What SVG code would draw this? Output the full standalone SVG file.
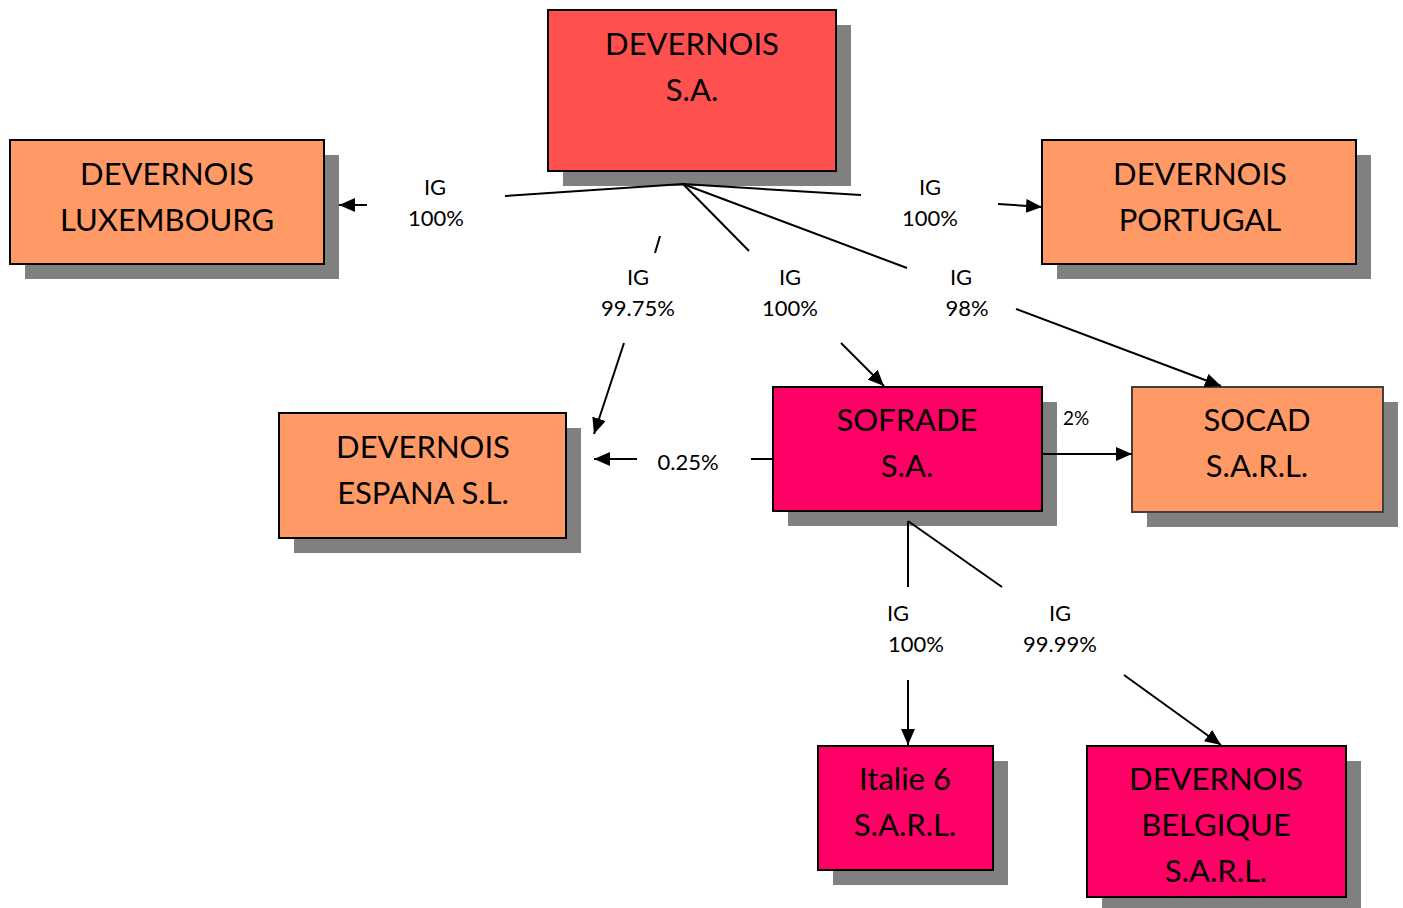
<svg xmlns="http://www.w3.org/2000/svg" width="1403" height="908" viewBox="0 0 1403 908">
<style>
.sh{fill:#808080}
.box{stroke:#000;stroke-width:2}
.red{fill:#FF5050}
.org{fill:#FF9966}
.pink{fill:#FF0066}
.nt{font-family:Lato,"Open Sans",sans-serif;font-size:31px;fill:#000;text-anchor:middle}
.lb{font-family:Lato,"Open Sans",sans-serif;font-size:22px;fill:#000;text-anchor:middle}
.ln{stroke:#000;stroke-width:2;fill:none}
</style>
<defs>
<marker id="ah" markerUnits="userSpaceOnUse" markerWidth="16" markerHeight="14" refX="16" refY="7" orient="auto">
<path d="M0,0 L16,7 L0,14 Z" fill="#000"/>
</marker>
</defs>
<rect width="1403" height="908" fill="#fff"/>
<g id="devernois-sa">
<rect class="sh" x="563" y="25" width="288" height="161"/>
<rect class="box red" x="548" y="10" width="288" height="161"/>
<text class="nt" x="692" y="55">DEVERNOIS</text>
<text class="nt" x="692" y="101">S.A.</text>
</g>
<g id="luxembourg">
<rect class="sh" x="25" y="155" width="314" height="124"/>
<rect class="box org" x="10" y="140" width="314" height="124"/>
<text class="nt" x="167" y="185">DEVERNOIS</text>
<text class="nt" x="167" y="231">LUXEMBOURG</text>
</g>
<g id="portugal">
<rect class="sh" x="1057" y="155" width="314" height="124"/>
<rect class="box org" x="1042" y="140" width="314" height="124"/>
<text class="nt" x="1200" y="185">DEVERNOIS</text>
<text class="nt" x="1200" y="231">PORTUGAL</text>
</g>
<g id="espana">
<rect class="sh" x="294" y="428" width="287" height="125"/>
<rect class="box org" x="279" y="413" width="287" height="125"/>
<text class="nt" x="423" y="458">DEVERNOIS</text>
<text class="nt" x="423" y="504">ESPANA S.L.</text>
</g>
<g id="sofrade">
<rect class="sh" x="788" y="402" width="269" height="124"/>
<rect class="box pink" x="773" y="387" width="269" height="124"/>
<text class="nt" x="907" y="431">SOFRADE</text>
<text class="nt" x="907" y="477">S.A.</text>
</g>
<g id="socad">
<rect class="sh" x="1147" y="402" width="251" height="125"/>
<rect class="box org" x="1132" y="387" width="251" height="125" style="stroke:#404040"/>
<text class="nt" x="1257" y="431">SOCAD</text>
<text class="nt" x="1257" y="477">S.A.R.L.</text>
</g>
<g id="italie">
<rect class="sh" x="833" y="761" width="175" height="124"/>
<rect class="box pink" x="818" y="746" width="175" height="124"/>
<text class="nt" x="905" y="790">Italie 6</text>
<text class="nt" x="905" y="836">S.A.R.L.</text>
</g>
<g id="belgique">
<rect class="sh" x="1102" y="761" width="259" height="147"/>
<rect class="box pink" x="1087" y="746" width="259" height="151"/>
<text class="nt" x="1216" y="790">DEVERNOIS</text>
<text class="nt" x="1216" y="836">BELGIQUE</text>
<text class="nt" x="1216" y="882">S.A.R.L.</text>
</g>
<g id="connectors">
<line class="ln" x1="683" y1="184" x2="505" y2="196"/>
<line class="ln" x1="367" y1="205" x2="339" y2="205" marker-end="url(#ah)"/>
<line class="ln" x1="683" y1="184" x2="861" y2="195"/>
<line class="ln" x1="998" y1="204" x2="1042" y2="207" marker-end="url(#ah)"/>
<line class="ln" x1="660" y1="236" x2="655" y2="253"/>
<line class="ln" x1="624" y1="343" x2="594" y2="434" marker-end="url(#ah)"/>
<line class="ln" x1="683" y1="184" x2="749" y2="251"/>
<line class="ln" x1="841" y1="343" x2="884" y2="386" marker-end="url(#ah)"/>
<line class="ln" x1="683" y1="184" x2="907" y2="268"/>
<line class="ln" x1="1016" y1="309" x2="1221" y2="386" marker-end="url(#ah)"/>
<line class="ln" x1="773" y1="459" x2="751" y2="459"/>
<line class="ln" x1="637" y1="459" x2="594" y2="459" marker-end="url(#ah)"/>
<line class="ln" x1="1042" y1="454" x2="1132" y2="454" marker-end="url(#ah)"/>
<line class="ln" x1="908" y1="521" x2="908" y2="587"/>
<line class="ln" x1="908" y1="680" x2="908" y2="745" marker-end="url(#ah)"/>
<line class="ln" x1="908" y1="521" x2="1002" y2="587"/>
<line class="ln" x1="1124" y1="675" x2="1221" y2="745" marker-end="url(#ah)"/>
<text class="lb" x="435" y="195">IG</text>
<text class="lb" x="436" y="226">100%</text>
<text class="lb" x="930" y="195">IG</text>
<text class="lb" x="930" y="226">100%</text>
<text class="lb" x="638" y="285">IG</text>
<text class="lb" x="638" y="316">99.75%</text>
<text class="lb" x="790" y="285">IG</text>
<text class="lb" x="790" y="316">100%</text>
<text class="lb" x="961" y="285">IG</text>
<text class="lb" x="967" y="316">98%</text>
<text class="lb" x="688" y="470">0.25%</text>
<text class="lb" x="1076" y="425" style="font-size:19px">2%</text>
<text class="lb" x="898" y="621">IG</text>
<text class="lb" x="916" y="652">100%</text>
<text class="lb" x="1060" y="621">IG</text>
<text class="lb" x="1060" y="652">99.99%</text>
</g>
</svg>
